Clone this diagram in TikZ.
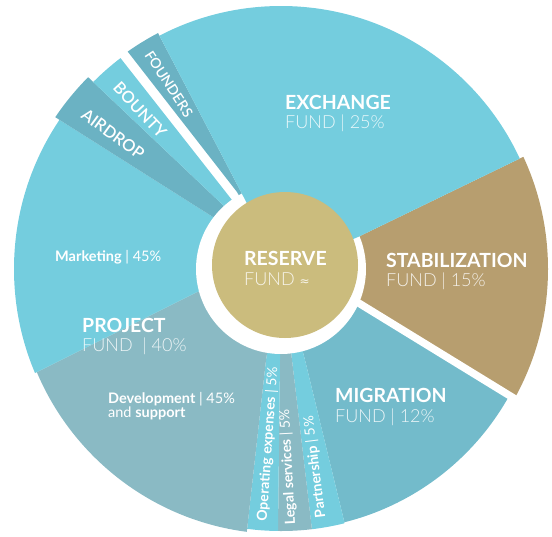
\documentclass[tikz,border=0pt]{standalone}
\usepackage{fontspec}
\setmainfont{Lato}
\IfFontExistsTF{Lato Light}{\newfontfamily\lightf{Lato Light}}{\newfontfamily\lightf{Lato}}
\IfFontExistsTF{Lato Semibold}{\newfontfamily\semif{Lato Semibold}}{\newfontfamily\semif{Lato}}
\newfontfamily\djv{DejaVu Sans}
\usetikzlibrary{calc}
\definecolor{cyanA}{HTML}{74CDDE}
\definecolor{tealB}{HTML}{6BB2C3}
\definecolor{tanC}{HTML}{B79E6F}
\definecolor{migD}{HTML}{73BBCB}
\definecolor{grayE}{HTML}{8ABAC4}
\definecolor{goldF}{HTML}{CBBC7D}
\newcommand\pieslice[4]{%
  \begin{scope}
    \clip (C) circle (#4);
    \fill[#1] (C) -- (#2i) -- ($(#2i)!2.2!(#2o)$) -- ($(#3i)!2.2!(#3o)$) -- (#3i) -- cycle;
  \end{scope}}
\tikzset{
  title/.style={anchor=base west, text=white, inner sep=0pt, font=\fontsize{19.5}{22}\selectfont\bfseries},
  sub/.style={anchor=base west, text=white, text opacity=0.85, inner sep=0pt, font=\fontsize{18}{22}\selectfont\lightf},
  small/.style={anchor=base west, text=white, inner sep=0pt, font=\fontsize{14.5}{16}\selectfont},
  striplabel/.style={text=white, inner sep=0pt, font=\fontsize{14}{16}\selectfont},
  wedgelabel/.style={text=white, inner sep=0pt, font=\fontsize{16.5}{18}\selectfont\semif}
}
\begin{document}
\begin{tikzpicture}[x=1pt,y=-1pt]
\useasboundingbox (0,0) rectangle (552,536);
\coordinate (C) at (281,269);
% slice boundaries: inner point / outer point
\coordinate (b1i) at (240,190); \coordinate (b1o) at (158,33);
\coordinate (b2i) at (358,237); \coordinate (b2o) at (523,157);
\coordinate (b3i) at (357,302); \coordinate (b3o) at (507,394);
\coordinate (b4i) at (305,360); \coordinate (b4o) at (347,533);
\coordinate (b5i) at (292,360); \coordinate (b5o) at (312,530);
\coordinate (b6i) at (280,360); \coordinate (b6o) at (278,530);
\coordinate (b7i) at (266,360); \coordinate (b7o) at (247,530);
\coordinate (b8i) at (197,292); \coordinate (b8o) at (35,373);
\coordinate (b9i) at (213,217); \coordinate (b9o) at (55,117);
\coordinate (b10i) at (225,207); \coordinate (b10o) at (89,78);
\coordinate (b11i) at (232,200); \coordinate (b11o) at (122,60);
\coordinate (b12i) at (237,192); \coordinate (b12o) at (128,52);
% slices
\pieslice{tanC}{b2}{b3}{267}
\pieslice{migD}{b3}{b4}{261}
\pieslice{cyanA}{b4}{b5}{262}
\pieslice{grayE}{b5}{b6}{262}
\pieslice{cyanA}{b6}{b7}{262}
\pieslice{grayE}{b7}{b8}{265}
\pieslice{cyanA}{b8}{b9}{267}
\pieslice{tealB}{b9}{b10}{272}
\pieslice{cyanA}{b10}{b11}{265}
\pieslice{tealB}{b12}{b1}{266}
% white gap between stabilization and migration
\draw[white, line width=7.5pt] (b3i) -- ($(b3i)!2!(b3o)$);
% central hole
\fill[white] (C) circle (85);
\pieslice{cyanA}{b1}{b2}{263}
% reserve
\fill[goldF] (285,265) circle (73);
% labels
\node[title] (exT) at (285,109) {EXCHANGE};
\node[sub] (exS) at (285,128) {FUND | 25\%};
\node[title] (stT) at (386,267) {STABILIZATION};
\node[sub] (stS) at (386,286) {FUND | 15\%};
\node[title] (miT) at (335,402) {MIGRATION};
\node[sub] (miS) at (335,422) {FUND | 12\%};
\node[title] (prT) at (82,332) {PROJECT};
\node[sub] (prS) at (82,351) {FUND \ | 40\%};
\node[title] (reT) at (244,265) {RESERVE};
\node[sub] (reS) at (244,285) {FUND {\djv\fontsize{12}{14}\selectfont ≈}};
\node[small] (mk) at (55,261) {\textbf{Marketing} | 45\%};
\node[small] (dv1) at (108,403) {\textbf{Development} | 45\%};
\node[small] (dv2) at (108,417) {and \textbf{support}};
\node[striplabel, rotate=86] (op) at (268,444) {\textbf{Operating expenses} | 5\%};
\node[striplabel, rotate=93] (lg) at (288,467) {\textbf{Legal services} | 5\%};
\node[striplabel, rotate=97] (pt) at (315,467) {\textbf{Partnership} | 5\%};
\node[wedgelabel, font=\fontsize{14}{16}\selectfont\semif, rotate=-57] (fo) at (169,84) {FOUNDERS};
\node[wedgelabel, rotate=-47] (bo) at (140,110) {BOUNTY};
\node[wedgelabel, rotate=-36] (ai) at (113,134) {AIRDROP};
\end{tikzpicture}
\end{document}
